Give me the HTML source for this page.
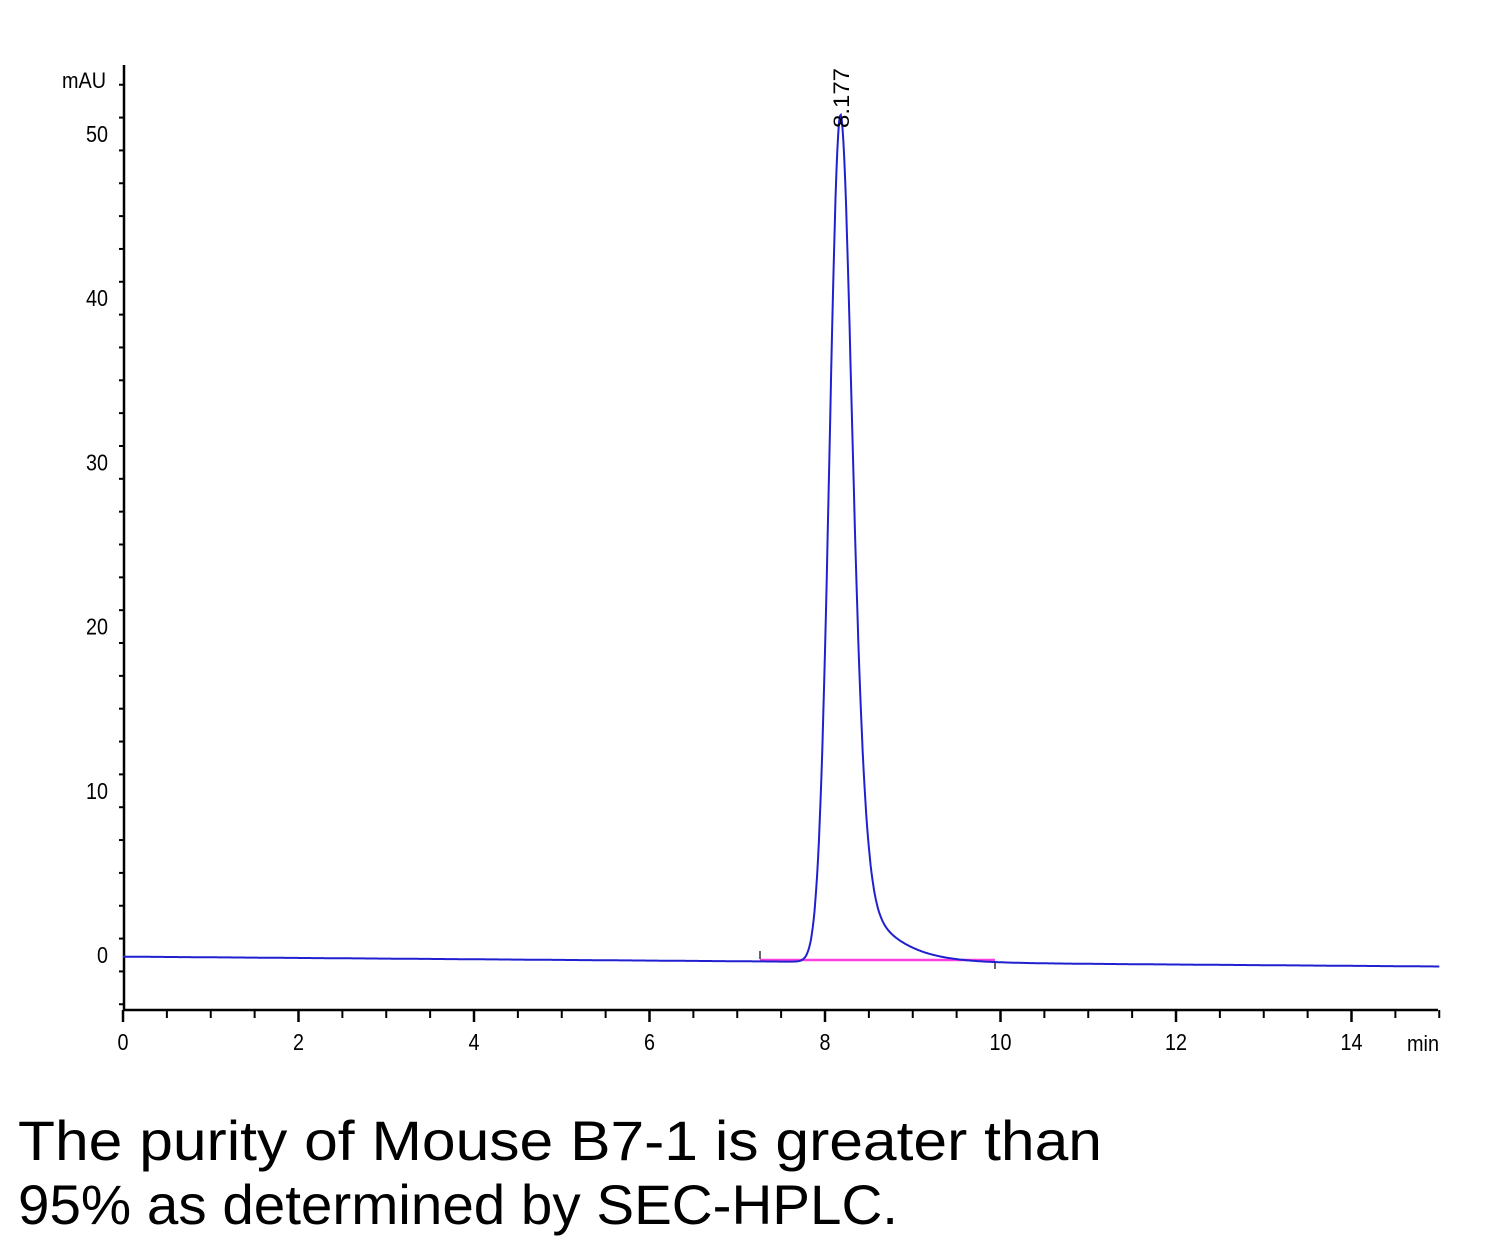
<!DOCTYPE html>
<html><head><meta charset="utf-8"><style>html,body{margin:0;padding:0;background:#fff}svg{display:block}</style></head>
<body>
<svg id="s" width="1500" height="1252" xmlns="http://www.w3.org/2000/svg" font-family="Liberation Sans, sans-serif">
<rect width="1500" height="1252" fill="#fff"/>
<g id="ax" stroke="#000" stroke-width="2.5"></g>
<g id="lb" font-size="23" fill="#000"></g>
<text x="62" y="88" font-size="22" textLength="44" lengthAdjust="spacingAndGlyphs">mAU</text>
<text x="1407" y="1051" font-size="22" textLength="32" lengthAdjust="spacingAndGlyphs">min</text>
<line x1="760" y1="960" x2="995" y2="960" stroke="#ff40e0" stroke-width="2.5"/>
<line x1="760" y1="951" x2="760" y2="959" stroke="#000" stroke-width="1.2"/>
<line x1="995" y1="961" x2="995" y2="969" stroke="#000" stroke-width="1.2"/>
<path id="tr" fill="none" stroke="#2020d0" stroke-width="2"/>
<text transform="translate(849,128) rotate(-90)" font-size="22" textLength="60" lengthAdjust="spacingAndGlyphs">8.177</text>
<text x="18" y="1160" font-size="56" textLength="1084" lengthAdjust="spacingAndGlyphs">The purity of Mouse B7-1 is greater than</text>
<text x="18" y="1224" font-size="56" textLength="880" lengthAdjust="spacingAndGlyphs">95% as determined by SEC-HPLC.</text>
</svg>
<script>
var NS="http://www.w3.org/2000/svg";
function X(t){return 123+t*87.75}
function Y(v){return 955-v*16.42}
var ax=document.getElementById('ax'),lb=document.getElementById('lb');
function ln(x1,y1,x2,y2,w){var l=document.createElementNS(NS,'line');l.setAttribute('x1',x1);l.setAttribute('y1',y1);l.setAttribute('x2',x2);l.setAttribute('y2',y2);if(w)l.setAttribute('stroke-width',w);ax.appendChild(l);}
function tx(x,y,s,a,w){var t=document.createElementNS(NS,'text');t.setAttribute('x',x);t.setAttribute('y',y);t.setAttribute('text-anchor',a);t.setAttribute('textLength',w);t.setAttribute('lengthAdjust','spacingAndGlyphs');t.textContent=s;lb.appendChild(t);}
ln(124,65,124,1010);ln(123,1010,1438,1010);
for(var t=0;t<=15;t+=0.5){var x=X(t);var maj=(t%2==0);ln(x,1010,x,maj?1022:1018,maj?2.5:2);if(maj)tx(x,1050,String(t),'middle',String(t).length*11);}
for(var v=-3;v<=56;v+=2){var y=Y(v);if(y<68||y>1008)continue;var maj=(v%10==0);ln(maj?114:119,y,124,y,maj?2.5:2);}
for(var v=0;v<=50;v+=10){tx(108,Y(v)+8,String(v),'end',String(v).length*11);}
var d='';
for(var i=0;i<=1500;i++){var t=i*0.01;var b=-0.1-0.6*t/15;var x0=t-8.177;
var sg=x0>0?0.125+0.08*x0:0.125;
var g=51.6*Math.exp(-x0*x0/(2*sg*sg));
var tl=0;if(x0>0){var s=1-Math.exp(-Math.pow(x0/0.4,2));tl=9.0*Math.exp(-x0/0.36)*s;}
var v=b+g+tl;d+=(i?'L':'M')+X(t).toFixed(1)+' '+Y(v).toFixed(1);}
document.getElementById('tr').setAttribute('d',d);
</script>
</body></html>
